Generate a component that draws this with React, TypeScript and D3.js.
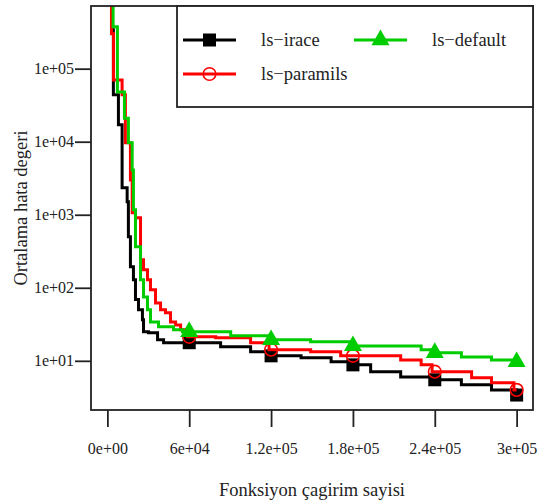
import React, { useEffect, useRef } from 'react'
import * as d3 from 'd3'

// evaluations (x) and mean error (y), step curves
const iraceEvals = [0, 3450, 4400, 8100, 10800, 14500, 15400, 16900, 19100, 20600, 22800, 25700, 26500, 30100, 36800, 41200, 83000, 105000, 118500, 142000, 164000, 180000, 193000, 215000, 240000, 259500, 281600, 300000]
const iraceErrors = [2e6, 342000, 44000, 17100, 2340, 1510, 500, 194, 129, 69, 50, 36.5, 25, 24.2, 19.4, 17.7, 15.6, 13.3, 11.7, 11.0, 9.7, 8.8, 7.1, 6.0, 5.5, 4.7, 4.0, 3.4]

const paramilsEvals = [0, 3000, 4500, 10800, 13200, 16900, 18200, 20600, 24300, 26500, 29400, 31600, 35300, 39000, 42600, 46300, 50000, 53700, 58800, 79400, 105000, 118500, 149000, 171000, 215000, 230000, 238000, 267000, 281600, 298000, 300000]
const paramilsErrors = [2e6, 300000, 70000, 44000, 9700, 3000, 1065, 910, 242, 177, 129, 94, 62, 50, 45.5, 34, 31, 26.6, 21.3, 20.7, 17.7, 14.2, 13.3, 11.7, 10.3, 8.8, 7.1, 5.85, 5.0, 4.0, 4.0]

const defaultEvals = [0, 4200, 7350, 12500, 15400, 18200, 19100, 20600, 24300, 26500, 29400, 31600, 37500, 48500, 55100, 90400, 118000, 149000, 178000, 230000, 238000, 259500, 281600, 297000, 300000]
const defaultErrors = [2e6, 375000, 48000, 21000, 9700, 4100, 1170, 365, 129, 75, 50, 34, 29.2, 26.6, 25, 22, 19.4, 18.2, 16.0, 14.2, 12.9, 11.3, 10.3, 9.7, 9.7]

const seriesNames = ['ls\u2212irace', 'ls\u2212paramils', 'ls\u2212default']
const markerEvals = [60000, 120000, 180000, 240000, 300000]

const xTickValues = [0, 60000, 120000, 180000, 240000, 300000]
const xTickLabels = ['0e+00', '6e+04', '1.2e+05', '1.8e+05', '2.4e+05', '3e+05']
const yTickValues = [10, 100, 1000, 10000, 100000]
const yTickLabels = ['1e+01', '1e+02', '1e+03', '1e+04', '1e+05']

const xLim = [0, 300000]
const yLim = [3.4, 450000]

const colors = ['#000000', '#ff0000', '#00cd00']
const shapes = ['square', 'circle', 'triangle']
const font = '"Liberation Serif", "Times New Roman", serif'

const W = 544
const H = 504
const box = { left: 91, right: 533, top: 6, bottom: 410 }

function drawMarker(g, shape, color, x, y) {
  if (shape === 'square') {
    g.append('rect')
      .attr('x', x - 6.5).attr('y', y - 6.5)
      .attr('width', 13).attr('height', 13)
      .attr('fill', color)
  } else if (shape === 'circle') {
    g.append('circle')
      .attr('cx', x).attr('cy', y).attr('r', 6.3)
      .attr('fill', 'none').attr('stroke', color).attr('stroke-width', 1.6)
  } else {
    const r = 10.4
    const pts = [[x, y - r], [x + r * 0.866, y + r / 2], [x - r * 0.866, y + r / 2]]
    g.append('polygon')
      .attr('points', pts.map(p => p.join(',')).join(' '))
      .attr('fill', color)
  }
}

function draw(svgEl) {
  const svg = d3.select(svgEl)
  svg.selectAll('*').remove()

  // R style 4% expansion of the axis limits
  const dx = (xLim[1] - xLim[0]) * 0.04
  const x = d3.scaleLinear()
    .domain([xLim[0] - dx, xLim[1] + dx])
    .range([box.left, box.right])

  const l0 = Math.log10(yLim[0]), l1 = Math.log10(yLim[1])
  const dl = (l1 - l0) * 0.04
  const y = d3.scaleLog()
    .domain([Math.pow(10, l0 - dl), Math.pow(10, l1 + dl)])
    .range([box.bottom, box.top])

  svg.append('defs').append('clipPath').attr('id', 'plot-clip')
    .append('rect')
    .attr('x', box.left).attr('y', box.top)
    .attr('width', box.right - box.left).attr('height', box.bottom - box.top)

  const series = [
    { evals: iraceEvals, errors: iraceErrors },
    { evals: paramilsEvals, errors: paramilsErrors },
    { evals: defaultEvals, errors: defaultErrors },
  ]

  const line = d3.line()
    .x(d => x(d[0]))
    .y(d => y(d[1]))
    .curve(d3.curveStepAfter)

  const plot = svg.append('g').attr('clip-path', 'url(#plot-clip)')

  series.forEach((s, i) => {
    const pts = s.evals.map((e, k) => [e, s.errors[k]])
    plot.append('path')
      .attr('d', line(pts))
      .attr('fill', 'none')
      .attr('stroke', colors[i])
      .attr('stroke-width', 3)
      .attr('stroke-linejoin', 'miter')

    markerEvals.forEach(m => {
      let v = s.errors[0]
      s.evals.forEach((e, k) => { if (e <= m) v = s.errors[k] })
      drawMarker(plot, shapes[i], colors[i], x(m), y(v))
    })
  })

  // box
  svg.append('rect')
    .attr('x', box.left).attr('y', box.top)
    .attr('width', box.right - box.left).attr('height', box.bottom - box.top)
    .attr('fill', 'none').attr('stroke', '#222').attr('stroke-width', 1.8)

  // x axis
  const xAxis = d3.axisBottom(x)
    .tickValues(xTickValues)
    .tickFormat((d, i) => xTickLabels[i])
    .tickSize(17)
    .tickPadding(16)
  const gx = svg.append('g').attr('transform', `translate(0,${box.bottom})`).call(xAxis)
  gx.select('.domain').remove()
  gx.selectAll('line').attr('stroke', '#222').attr('stroke-width', 1.8)
  gx.selectAll('text').attr('font-family', font).attr('font-size', 16).attr('fill', '#222')

  // y axis
  const yAxis = d3.axisLeft(y)
    .tickValues(yTickValues)
    .tickFormat((d, i) => yTickLabels[i])
    .tickSize(16)
    .tickPadding(1)
  const gy = svg.append('g').attr('transform', `translate(${box.left},0)`).call(yAxis)
  gy.select('.domain').remove()
  gy.selectAll('line').attr('stroke', '#222').attr('stroke-width', 1.8)
  gy.selectAll('text').attr('font-family', font).attr('font-size', 16).attr('fill', '#222')

  // axis titles
  svg.append('text')
    .attr('x', (box.left + box.right) / 2).attr('y', 496)
    .attr('text-anchor', 'middle')
    .attr('font-family', font).attr('font-size', 18.5).attr('fill', '#222')
    .text('Fonksiyon çagirim sayisi')

  svg.append('text')
    .attr('transform', `translate(27,${(box.top + box.bottom) / 2}) rotate(-90)`)
    .attr('text-anchor', 'middle')
    .attr('font-family', font).attr('font-size', 18.5).attr('fill', '#222')
    .text('Ortalama hata degeri')

  // legend
  const lg = svg.append('g')
  lg.append('rect')
    .attr('x', 177).attr('y', box.top)
    .attr('width', box.right - 177).attr('height', 101)
    .attr('fill', 'white').attr('stroke', '#222').attr('stroke-width', 1.8)

  const legendPos = [[183, 40], [183, 74], [354, 40]]
  seriesNames.forEach((name, i) => {
    const [lx, ly] = legendPos[i]
    lg.append('line')
      .attr('x1', lx).attr('x2', lx + 53)
      .attr('y1', ly).attr('y2', ly)
      .attr('stroke', colors[i]).attr('stroke-width', 3)
    drawMarker(lg, shapes[i], colors[i], lx + 26.5, ly)
    lg.append('text')
      .attr('x', lx + 78).attr('y', ly)
      .attr('dy', '0.33em')
      .attr('font-family', font).attr('font-size', 18.5).attr('fill', '#222')
      .text(name)
  })
}

export default function App() {
  const ref = useRef(null)

  useEffect(() => {
    draw(ref.current)
  }, [])

  return (
    <svg
      ref={ref}
      width={W}
      height={H}
      style={{ position: 'absolute', left: 0, top: 0, background: 'white' }}
    />
  )
}
